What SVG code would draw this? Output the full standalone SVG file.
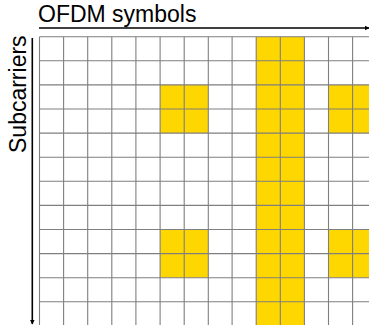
<svg xmlns="http://www.w3.org/2000/svg" width="369" height="325" viewBox="0 0 369 325">
<style>
.y{fill:#FFD700}
.g{stroke:#7f7f7f;stroke-width:1.1;fill:none}
.ax{stroke:#000;stroke-width:1.6;fill:none}
.t{font-family:"Liberation Sans",Arial,sans-serif;font-size:23px;fill:#000}
</style>
<defs>
<marker id="ah" viewBox="0 0 10 10" refX="9" refY="5" markerWidth="5" markerHeight="5" orient="auto" markerUnits="userSpaceOnUse">
<path d="M0,0 L10,5 L0,10 z" fill="#000"/>
</marker>
</defs>
<rect width="369" height="325" fill="#fff"/>
<g id="pilots">
<rect class="y" x="256.2" y="36.7" width="48.2" height="288.3"/>
<rect class="y" x="160.1" y="84.9" width="48.2" height="48.2"/>
<rect class="y" x="160.1" y="229.5" width="48.2" height="48.2"/>
<rect class="y" x="328.5" y="84.9" width="40.5" height="48.2"/>
<rect class="y" x="328.5" y="229.5" width="40.5" height="48.2"/>
</g>
<g id="grid" class="g">
<path d="M39.5,36.7V325M63.6,36.7V325M87.7,36.7V325M111.8,36.7V325M135.9,36.7V325M160.1,36.7V325M184.2,36.7V325M208.3,36.7V325M232.1,36.7V325M256.2,36.7V325M280.3,36.7V325M304.4,36.7V325M328.5,36.7V325M352.6,36.7V325"/>
<path d="M39.5,36.7H369M39.5,60.8H369M39.5,84.9H369M39.5,109H369M39.5,133.1H369M39.5,157.2H369M39.5,181.3H369M39.5,205.4H369M39.5,229.5H369M39.5,253.6H369M39.5,277.7H369M39.5,301.8H369"/>
</g>
<g id="axes">
<line class="ax" x1="39" y1="28" x2="369" y2="28" marker-end="url(#ah)"/>
<line class="ax" x1="32.3" y1="38" x2="32.3" y2="324" marker-end="url(#ah)"/>
</g>
<text class="t" x="38" y="22">OFDM symbols</text>
<text class="t" transform="translate(26,153) rotate(-90)">Subcarriers</text>
</svg>
